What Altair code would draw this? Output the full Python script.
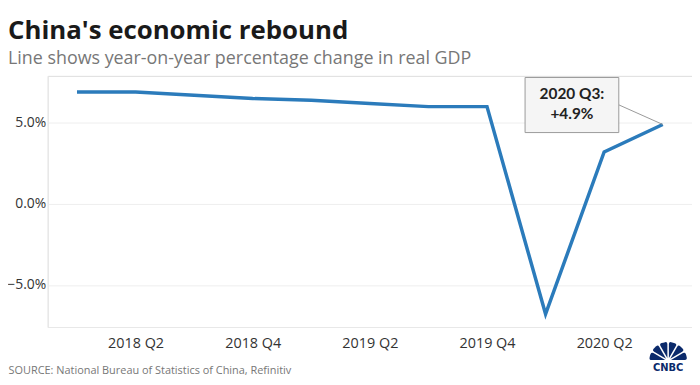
import altair as alt
import pandas as pd

# ---- data ----
quarters = ["2018 Q1", "2018 Q2", "2018 Q3", "2018 Q4",
            "2019 Q1", "2019 Q2", "2019 Q3", "2019 Q4",
            "2020 Q1", "2020 Q2", "2020 Q3"]
gdp = [6.9, 6.9, 6.7, 6.5, 6.4, 6.2, 6.0, 6.0, -6.8, 3.2, 4.9]
tick_quarters = ["2018 Q2", "2018 Q4", "2019 Q2", "2019 Q4", "2020 Q2"]
y_ticks = [-5, 0, 5]

title = "China's economic rebound"
subtitle = "Line shows year-on-year percentage change in real GDP"
source = "SOURCE: National Bureau of Statistics of China, Refinitiv"

# callout box (data units) for the last point
box_x = [7.65, 9.25]
box_y = [4.4, 7.8]
box_text_x = [8.45, 8.45]
box_text_y = [6.78, 5.57]
connector_start = [9.25, 6.11]

# logo feathers (angles in radians)
feather_start = [4.71, 5.24, 5.76, 6.28, 6.81, 7.33]
feather_end = [5.24, 5.76, 6.28, 6.81, 7.33, 7.85]

FONT = "Open Sans"
BLUE = "#2b7bbb"

df = pd.DataFrame({"idx": list(range(len(quarters))), "quarter": quarters, "gdp": gdp})
label_expr = "[" + ",".join("'%s'" % q for q in quarters) + "][datum.value]"
tick_vals = [quarters.index(q) for q in tick_quarters]

xscale = alt.Scale(domain=[-0.5, len(quarters) - 0.5], nice=False, zero=False)
yscale = alt.Scale(domain=[-7.6, 7.9], nice=False, zero=False)

xaxis = alt.Axis(values=tick_vals, labelExpr=label_expr, grid=False, ticks=False,
                 domain=True, domainColor="#e8e8e8", labelFontSize=14.5,
                 labelColor="#333333", labelFont=FONT, labelPadding=10,
                 title=source, titleAnchor="start", titleAlign="left",
                 titleBaseline="middle", titleX=-40, titleY=44,
                 titleFont=FONT, titleFontSize=11, titleFontWeight="normal",
                 titleColor="#777777")
yaxis = alt.Axis(values=y_ticks, labelExpr="format(datum.value, '.1f') + '%'",
                 grid=True, gridColor="#eeeeee", ticks=False, domain=True,
                 domainColor="#e8e8e8", labelFontSize=14, labelColor="#333333",
                 labelFont=FONT, labelPadding=2, title=None)

line = alt.Chart(df).mark_line(color=BLUE, strokeWidth=3.5, strokeJoin="miter").encode(
    x=alt.X("idx:Q", scale=xscale, axis=xaxis),
    y=alt.Y("gdp:Q", scale=yscale, axis=yaxis),
)

last = df.iloc[[-1]]
conn_df = pd.DataFrame({"x": [connector_start[0]], "y": [connector_start[1]],
                        "x2": [last["idx"].iloc[0]], "y2": [last["gdp"].iloc[0]]})
connector = alt.Chart(conn_df).mark_rule(color="#999999", strokeWidth=1).encode(
    x=alt.X("x:Q", scale=xscale, axis=xaxis), y=alt.Y("y:Q", scale=yscale, axis=yaxis),
    x2="x2:Q", y2="y2:Q")

box_df = pd.DataFrame({"x": [box_x[0]], "x2": [box_x[1]], "y": [box_y[0]], "y2": [box_y[1]]})
box = alt.Chart(box_df).mark_rect(fill="#f5f5f5", stroke="#9a9a9a", strokeWidth=1).encode(
    x=alt.X("x:Q", scale=xscale, axis=xaxis), x2="x2:Q",
    y=alt.Y("y:Q", scale=yscale, axis=yaxis), y2="y2:Q")

txt_df = pd.DataFrame({"x": box_text_x, "y": box_text_y,
                       "t": [quarters[-1] + ":", "+%.1f%%" % gdp[-1]]})
box_text = alt.Chart(txt_df).mark_text(font="Lato", fontSize=15.5, fontWeight="bold",
                                       color="#222222", align="center", baseline="middle").encode(
    x=alt.X("x:Q", scale=xscale, axis=xaxis), y=alt.Y("y:Q", scale=yscale, axis=yaxis), text="t:N")

logo_df = pd.DataFrame({"t0": feather_start, "t1": feather_end})
logo = alt.Chart(logo_df).mark_arc(radius=19, innerRadius=3, padAngle=0.08, cornerRadius=2,
                                   color="#0b2a6b").encode(
    theta=alt.Theta("t0:Q", scale=None), theta2="t1:Q",
    x=alt.value(625), y=alt.value(287))
logo_text = alt.Chart(pd.DataFrame({"t": ["CNBC"]})).mark_text(
    font="DejaVu Sans", fontSize=10, fontWeight="bold", color="#0b2a6b", baseline="top").encode(
    x=alt.value(625), y=alt.value(289), text="t:N")

chart = alt.layer(line, connector, box, box_text, logo, logo_text).properties(
    width=649, height=253,
    title=alt.TitleParams(text=title, subtitle=subtitle, anchor="start", frame="group",
                          dx=-40, offset=8,
                          font=FONT, fontSize=26, fontWeight="bold", color="#1a1a1a",
                          subtitleFont=FONT, subtitleFontSize=18,
                          subtitleColor="#777777", subtitlePadding=6),
    autosize=alt.AutoSizeParams(type="none"),
    padding={"left": 40, "top": 67, "right": 0, "bottom": 48},
).configure_view(strokeWidth=0).configure(background="white")

chart.save("out.html", embed_options={"renderer": "svg", "actions": False})
